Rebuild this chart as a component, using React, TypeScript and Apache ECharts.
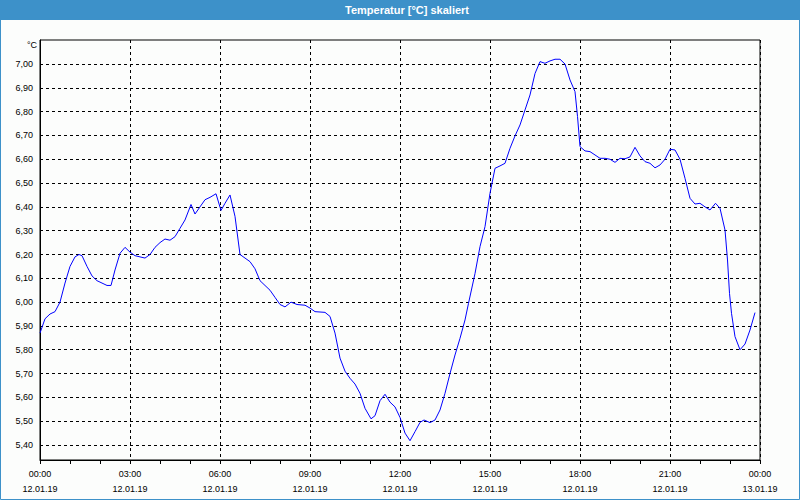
import React, { useEffect, useRef } from "react";
import * as echarts from "echarts";

// minutes since 12.01.19 00:00
const minutes = [
  0, 10, 20, 30, 40, 50, 60, 70, 78, 84, 94, 104, 114, 124, 134, 142, 150, 160, 170, 180,
  190, 200, 210, 220, 230, 240, 250, 260, 270, 280, 290, 302, 310, 320, 330, 340, 352, 362, 370, 380,
  390, 400, 410, 420, 430, 440, 450, 460, 470, 480, 490, 502, 514, 530, 540, 550, 570, 580, 590, 600,
  610, 620, 630, 640, 650, 662, 670, 680, 690, 700, 710, 720, 730, 740, 750, 760, 768, 780, 790, 800,
  810, 820, 830, 840, 850, 857, 870, 880, 890, 900, 910, 920, 930, 940, 950, 960, 970, 980, 990, 1000,
  1010, 1020, 1030, 1040, 1050, 1060, 1070, 1075, 1080, 1090, 1100, 1110, 1120, 1130, 1140, 1150, 1160, 1170, 1180, 1190,
  1200, 1210, 1220, 1230, 1240, 1250, 1260, 1270, 1280, 1290, 1300, 1310, 1320, 1330, 1340, 1351, 1360, 1370, 1375, 1379,
  1383, 1390, 1400, 1410, 1420, 1430,
];

const temperatures = [
  5.87, 5.93, 5.95, 5.96, 6.0, 6.08, 6.15, 6.19, 6.2, 6.195, 6.15, 6.11, 6.09, 6.08, 6.07, 6.07, 6.135, 6.205, 6.23, 6.21,
  6.195, 6.19, 6.185, 6.2, 6.23, 6.25, 6.265, 6.26, 6.275, 6.31, 6.345, 6.41, 6.37, 6.4, 6.43, 6.44, 6.455, 6.385, 6.415, 6.45,
  6.36, 6.2, 6.185, 6.17, 6.14, 6.09, 6.07, 6.05, 6.02, 5.99, 5.98, 6.0, 5.99, 5.987, 5.975, 5.96, 5.957, 5.94, 5.87, 5.765,
  5.71, 5.68, 5.656, 5.617, 5.554, 5.51, 5.523, 5.586, 5.613, 5.58, 5.56, 5.516, 5.45, 5.418, 5.456, 5.495, 5.505, 5.494, 5.505, 5.547,
  5.617, 5.7, 5.778, 5.848, 5.925, 5.995, 6.12, 6.233, 6.317, 6.457, 6.562, 6.572, 6.583, 6.646, 6.698, 6.744, 6.807, 6.87, 6.96, 7.01,
  7.003, 7.013, 7.02, 7.02, 7.0, 6.933, 6.884, 6.78, 6.653, 6.635, 6.632, 6.618, 6.604, 6.604, 6.6, 6.587, 6.604, 6.602, 6.61, 6.65,
  6.614, 6.59, 6.583, 6.564, 6.576, 6.6, 6.642, 6.639, 6.6, 6.52, 6.436, 6.412, 6.415, 6.4, 6.387, 6.415, 6.394, 6.303, 6.177, 6.037,
  5.953, 5.855, 5.8, 5.824, 5.883, 5.956,
];

const yTicks = [5.4, 5.5, 5.6, 5.7, 5.8, 5.9, 6.0, 6.1, 6.2, 6.3, 6.4, 6.5, 6.6, 6.7, 6.8, 6.9, 7.0];
const xLabelTimes = ["00:00", "03:00", "06:00", "09:00", "12:00", "15:00", "18:00", "21:00", "00:00"];
const xLabelDates = ["12.01.19", "12.01.19", "12.01.19", "12.01.19", "12.01.19", "12.01.19", "12.01.19", "12.01.19", "13.01.19"];

const title = "Temperatur [°C] skaliert";
const unit = "°C";

export default function App() {
  const ref = useRef<HTMLDivElement>(null);

  useEffect(() => {
    document.body.style.margin = "0";
    if (!ref.current) return;
    const chart = echarts.init(ref.current, null, { renderer: "svg" });
    const font = "Liberation Sans";
    const data = minutes.map((m, i) => [m, temperatures[i]]);

    chart.setOption({
      animation: false,
      backgroundColor: "#fcfdfc",
      textStyle: { fontFamily: font },
      graphic: [
        { type: "rect", shape: { x: 0, y: 0, width: 800, height: 20 }, style: { fill: "#3d91c9" }, z: 10 },
        {
          type: "rect",
          shape: { x: 0.5, y: 0.5, width: 799, height: 499 },
          style: { fill: "none", stroke: "#3d91c9", lineWidth: 1 },
          z: 10,
        },
        {
          type: "text",
          x: 407,
          y: 10,
          style: {
            text: title,
            fill: "#ffffff",
            font: `bold 11px "${font}"`,
            textAlign: "center",
            textVerticalAlign: "middle",
          },
          z: 11,
        },
        {
          type: "text",
          x: 37,
          y: 45,
          style: {
            text: unit,
            fill: "#000",
            font: `9px "${font}"`,
            textAlign: "right",
            textVerticalAlign: "middle",
          },
          z: 11,
        },
      ],
      grid: {
        left: 40,
        right: 40,
        top: 40,
        bottom: 40,
        show: true,
        borderColor: "#000",
        borderWidth: 1,
        backgroundColor: "transparent",
      },
      xAxis: {
        type: "value",
        min: 0,
        max: 1440,
        interval: 180,
        axisLine: { show: true, lineStyle: { color: "#000", width: 1 } },
        axisTick: { show: true, length: 4, lineStyle: { color: "#000" } },
        minorTick: { show: true, splitNumber: 3, length: 4, lineStyle: { color: "#000" } },
        splitLine: { show: true, lineStyle: { color: "#000", type: [3, 3], width: 1 } },
        axisLabel: {
          show: true,
          showMinLabel: true,
          showMaxLabel: true,
          margin: 6,
          fontSize: 9,
          lineHeight: 15,
          color: "#000",
          fontFamily: font,
          formatter: (v: number) => {
            const i = Math.round(v / 180);
            return `${xLabelTimes[i]}\n${xLabelDates[i]}`;
          },
        },
      },
      yAxis: {
        type: "value",
        min: 5.337,
        max: 7.1008,
        axisLine: { show: true, lineStyle: { color: "#000", width: 1 } },
        axisTick: { show: false, customValues: yTicks },
        splitLine: { show: true, lineStyle: { color: "#000", type: [3, 3], width: 1 } },
        axisLabel: {
          customValues: yTicks,
          margin: 7,
          fontSize: 9,
          color: "#000",
          fontFamily: font,
          formatter: (v: number) => v.toFixed(2).replace(".", ","),
        },
      },
      series: [
        {
          type: "line",
          data,
          symbol: "none",
          showSymbol: false,
          lineStyle: { color: "#0000ff", width: 1 },
          itemStyle: { color: "#0000ff" },
          z: 5,
        },
      ],
    });

    return () => chart.dispose();
  }, []);

  return <div ref={ref} style={{ width: 800, height: 500 }} />;
}
